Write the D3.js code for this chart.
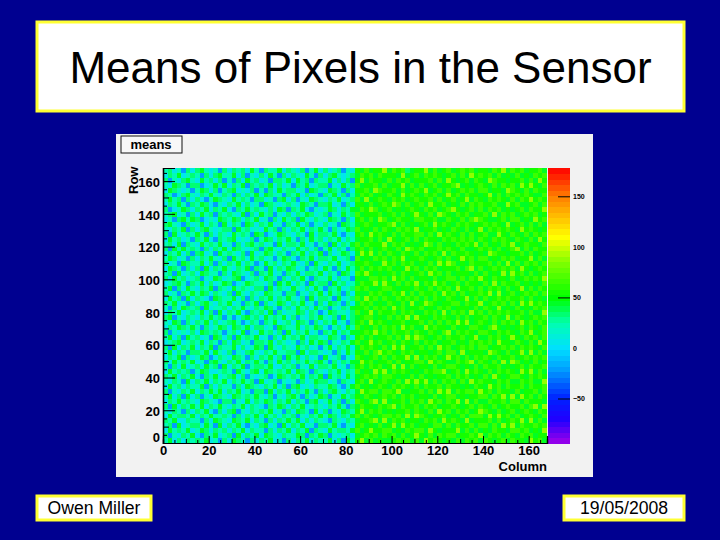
<!DOCTYPE html>
<html>
<head>
<meta charset="utf-8">
<script src="https://cdn.jsdelivr.net/npm/d3@7"></script>
<style>
    html, body { margin: 0; padding: 0; background: #000090; }
    text { font-family: "Liberation Sans", Arial, sans-serif; fill: #000; }
</style>
</head>
<body>
<div id="chart"></div>
<script>
const slideTitle = "Means of Pixels in the Sensor",
    slideAuthor = "Owen Miller",
    slideDate = "19/05/2008",
    histName = "means",
    xTitle = "Column",
    yTitle = "Row";

const axisMax = 168,
    axisTicks = [0, 20, 40, 60, 80, 100, 120, 140, 160],
    axisMinorTicks = [10, 30, 50, 70, 90, 110, 130, 150],
    axisFineTicks = [5, 15, 25, 35, 45, 55, 65, 75, 85, 95, 105, 115, 125, 135, 145, 155, 165],
    zMin = -94,
    zMax = 178,
    zBands = 50,
    zLabels = [-50, 0, 50, 100, 150],
    zMarked = [-50, 50, 150];

// colour of the palette at a few z values
const zStops = [-94, -70, -50, -20, 0, 25, 50, 85, 110, 150, 178],
    zColors = ["#a000e8", "#2000ff", "#0020ff", "#00a0ff", "#00e0ff", "#00ffb0", "#00ff00", "#80ff00", "#ffff00", "#ff8000", "#ff0000"];

// mean for each digit used in the rows below
const levelValues = [-30, -24, -20, 8, 22, 34, 46, 54, 66, 88];

// Hand, top row first. One digit = 2 columns x 3 rows.
// Only the level and speckle of each half are read, not the individual pixels.
const leftRows = [
"4534253 5643425 3545364 2544635 4352463 5345243",
"3546345 4253564 4635243 5364253 5436425 3564345",
"5243564 3645352 4253645 3425546 3645254 4635352",
"4365425 5234646 3546254 5463534 2546345 5243645",
"3654342 4653524 5634352 4253645 5342654 3654253",
"5423564 3546435 4253546 3654425 4635342 5463524",
"4645253 5324654 3645425 5342563 5243654 3546345",
"3546425 4653243 5463534 2654345 4365425 5634253",
"5234653 5463546 3254645 4353652 5463243 4653546",
"4563425 3645254 5436253 6452435 3546534 5243645",
"3425646 5234365 4653546 3425364 5264354 3654253",
"5643253 4635426 3542653 5463425 4635243 5342654",
"4354625 3564345 5264534 3645253 5463546 4253465",
"5263454 6425354 3645426 5234654 3542635 5463243",
"3645342 5463254 5634352 4653546 4253645 3546354",
"4536254 3645463 4253564 5342635 5463424 5263546",
"5264645 4253546 3654345 2564354 3645352 4635425",
"3546352 5634264 5435263 4653542 5463546 2534653",
"4653425 3546435 2645364 5342465 3254635 5463452",
"5342654 4635253 5463542 3645354 6435264 3546345",
"3654253 5263546 4354625 4263546 5342453 6425364",
"4526345 3654425 3654352 5463425 4635546 3542653",
"5364534 5243653 4562345 3654253 5463254 4635342",
"3456425 4635346 5234654 4352646 3542645 5264534",
"4625364 3546254 3645435 5263543 6435364 2546345",
"5342546 4653543 5264354 3654425 5243546 3645253",
"3645263 5432654 4635253 5463546 4352635 5426345",
"5463425 3564354 6342546 2534653 5463425 3654253",
"4253654 5263445 3546435 4653245 3645364 5243546",
"3546345 4635263 5463254 5362534 4653542 3654435",
"5624354 3546452 4235645 3645463 5243546 4352635",
"4365253 5463534 5642354 2546345 3654253 5463425",
"3546546 4253465 3654635 5342654 4635465 3245364",
"5243435 3654542 4536243 6453526 3546342 5463546",
"4635264 5342653 5264546 3425364 5463554 3654253",
"3456345 4635425 3653425 5463543 4253646 5243546",
"5263546 3546254 4635346 5264354 3645342 4635463",
"4635425 5463643 5243564 3546445 5263554 3425364",
"3546253 4652354 3654253 5463526 4635342 6345243",
"5364546 3425643 5463546 4253645 3546456 4253546",
"4253634 5364526 3546245 5463354 5243635 5463425",
"3645452 4653345 4264356 3654546 3654254 3546354",
"5463546 3254634 5635243 4523654 5463546 2645364",
"4354263 5463546 3546452 6345243 4253465 5342543",
"3645354 4625354 4253654 3546352 5634354 4653246",
"5243546 3546463 5463425 5263546 3546425 3564354",
"4635263 5243654 3654546 4352435 6425346 5243645",
"3546454 3654325 5243635 4653546 3542563 4635253",
"5263546 4635464 3546354 3254653 5463454 3546425",
"4354253 5463253 5624354 5463425 3654263 5243654",
"3645546 3546445 4253546 3645354 5243546 4653546",
"5463354 4253654 3654635 4253546 4635354 3254354",
"4526345 5364263 5463243 5634263 5463425 5463243",
"3645463 4653545 3546354 4253546 3546254 3645546",
"5243546 3254634 5263546 3654354 4652546 5243453",
"4635354 5463425 3654253 5463425 3546354 4635264"
];
const rightRows = [
"7686779 6878567 7968678 6787867 7687968 7867786",
"6878687 7769678 6878767 8686978 7868676 8676878",
"7968776 8687867 7786869 7678687 6987767 7868697",
"8677868 6779686 8678677 8967678 7686878 6979768",
"7786987 7868678 7967868 6787868 8677698 7686877",
"6878676 8769787 6878679 7868776 7968687 8787668",
"8696787 6878678 7786867 8679687 6878768 6879787",
"7768678 7986867 8697786 7686878 7786697 8667868",
"6879867 8676787 6878678 9767868 6878676 7868779",
"8677786 7868679 7686987 6878677 8696878 6787867",
"7868698 6787768 8778668 7686898 7667868 8676978",
"6787677 8968676 7869787 6878767 8787696 7868686",
"8676868 7687879 6778676 8768679 6878787 6978767",
"7869787 6868778 8686978 7686867 8669768 7686878",
"6778686 9767868 6877687 8787868 7687876 8768697",
"8687779 6878676 7986867 6878796 8676879 6787768",
"7868678 7686987 8677878 7686678 7868678 9686877",
"6979686 8768768 6878696 8778767 6987767 7868678",
"8676878 6879677 8767868 6797868 8676878 6779686",
"7787669 7868786 7686979 8676877 7868696 8687868",
"6868787 8676978 6878677 7868968 6787878 6976787",
"8797676 7868767 8697868 6777686 8676969 7868678",
"7668878 6978686 7768678 8686879 7687768 6787879",
"6877969 7686879 6879786 7868776 8696877 8676768",
"8786678 8767768 7686878 6977868 6878686 7968687",
"7668787 6879686 8778697 8686778 7969678 6787868",
"8697868 7687878 6868768 7679686 8678787 7868676",
"6878676 8768696 7987677 8868779 6787868 6979787",
"7786878 6978677 8676878 6777686 8769676 8676878",
"8679687 7868786 6878696 8786978 6878787 7868669",
"6788676 8687969 7768787 6868677 8687696 8767878",
"7869787 6778677 8686868 7979678 7686878 6978687",
"8676868 7869786 6978776 8676887 6897676 7868768",
"6787978 6877868 7687689 6878768 8768787 6879678",
"7868677 8686979 8767868 7786796 6878679 7687868",
"8679786 7868768 6878677 8676878 7869776 8768697",
"6878768 6979677 8686978 6787868 8677878 6878768",
"7686897 8768786 7767868 8696777 6987686 7969686",
"8767868 6877969 6878679 7868687 8768778 6787878",
"6978677 8686778 8697876 6878968 7686969 8676867",
"7868786 7969686 7768678 8767686 8778676 7868778",
"8676979 6878767 6878896 7869787 6868787 6979686",
"6787868 8767686 8676778 6878676 8697678 8768787",
"7869678 7686979 7968687 8686978 7768786 6878669",
"8676787 6878768 6877868 7767687 6978687 7868778",
"6978868 8796677 8686979 6878869 7868776 8677868",
"7687678 7868786 7768678 8676778 8687969 6978687",
"8768969 6778687 8697868 7969686 6877868 8687776",
"6877687 8968778 6878677 8767868 7686787 7868969",
"7968786 7677868 7686978 6878679 8768678 6787687",
"8687678 8786969 8767786 7686888 6979786 8678768",
"6778969 6878677 6878697 8769677 7868678 7969686",
"7867686 7969786 7768868 6877868 8686979 6877878",
"8679778 8676878 8697677 7968686 7687768 8786769",
"6787868 7868679 7686878 8677879 6878687 6878677",
"7968676 6787868 6978767 6868786 8767868 7769786"
];

const meansRows = leftRows.map(function (row, i) {
    return row.replace(/ /g, "") + rightRows[i].replace(/ /g, "");
});

const slide = d3.select("#chart")
    .append("svg")
    .attr("width", 720)
    .attr("height", 540)
    .style("display", "block");

slide.append("rect")
    .attr("width", 720)
    .attr("height", 540)
    .attr("fill", "#000090");

function drawBox(x, y, w, h, label, fontSize, baseline) {
    slide.append("rect")
        .attr("x", x)
        .attr("y", y)
        .attr("width", w)
        .attr("height", h)
        .attr("fill", "#ffffff")
        .attr("stroke", "#ffff33")
        .attr("stroke-width", 3);
    slide.append("text")
        .attr("x", x + w / 2)
        .attr("y", baseline)
        .attr("text-anchor", "middle")
        .attr("font-size", fontSize)
        .text(label);
}

drawBox(37, 22, 647, 89, slideTitle, 44, 83);
drawBox(37, 496, 114, 24, slideAuthor, 17.6, 514);
drawBox(564, 496, 120, 24, slideDate, 17.6, 514);

// ROOT canvas
slide.append("rect")
    .attr("x", 116)
    .attr("y", 134)
    .attr("width", 477)
    .attr("height", 343)
    .attr("fill", "#f2f2f2");

slide.append("rect")
    .attr("x", 121)
    .attr("y", 136)
    .attr("width", 61)
    .attr("height", 17)
    .attr("fill", "#f8f8f8")
    .attr("stroke", "#111")
    .attr("stroke-width", 1);

slide.append("text")
    .attr("x", 151)
    .attr("y", 149)
    .attr("text-anchor", "middle")
    .attr("font-size", 13)
    .attr("font-weight", "bold")
    .text(histName);

const x = d3.scaleLinear().domain([0, axisMax]).range([163, 547]),
    y = d3.scaleLinear().domain([0, axisMax]).range([443, 168]),
    zAxisScale = d3.scaleLinear().domain([zMin, zMax]).range([443, 168]);

const zRamp = d3.scaleLinear().domain(zStops).range(zColors).clamp(true);
const zBandStep = (zMax - zMin) / zBands;
const zBandValues = d3.range(zBands).map(function (i) {
    return zMin + (i + 0.5) * zBandStep;
});
const zColor = d3.scaleQuantize().domain([zMin, zMax]).range(zBandValues.map(zRamp));

// heat map
const cells = [];
meansRows.forEach(function (row, r) {
    row.split("").forEach(function (digit, c) {
        cells.push({col: c * 2, row: axisMax - (r + 1) * 3, z: levelValues[+digit]});
    });
});

slide.append("g")
    .attr("shape-rendering", "crispEdges")
    .selectAll("rect")
    .data(cells)
    .join("rect")
    .attr("x", function (d) { return x(d.col); })
    .attr("y", function (d) { return y(d.row + 3); })
    .attr("width", function (d) { return x(d.col + 2) - x(d.col); })
    .attr("height", function (d) { return y(d.row) - y(d.row + 3); })
    .attr("fill", function (d) { return zColor(d.z); });

// colour bar
slide.append("g")
    .attr("shape-rendering", "crispEdges")
    .selectAll("rect")
    .data(zBandValues)
    .join("rect")
    .attr("x", 548)
    .attr("width", 22)
    .attr("y", function (d) { return zAxisScale(d + zBandStep / 2); })
    .attr("height", function (d) { return zAxisScale(d - zBandStep / 2) - zAxisScale(d + zBandStep / 2) + 0.5; })
    .attr("fill", function (d) { return zColor(d); });

const zAxisGroup = slide.append("g")
    .attr("transform", "translate(570,0)")
    .call(d3.axisRight(zAxisScale).tickValues(zLabels).tickSize(-12).tickFormat(d3.format("d")));
zAxisGroup.select(".domain").remove();
zAxisGroup.selectAll(".tick line")
    .filter(function (d) { return zMarked.indexOf(d) < 0; })
    .remove();
zAxisGroup.selectAll("text")
    .attr("x", 3)
    .attr("font-size", 7)
    .attr("font-weight", "bold")
    .attr("font-family", "Liberation Sans");

// axes
function styleAxis(group) {
    group.selectAll("text")
        .attr("font-size", 13)
        .attr("font-weight", "bold")
        .attr("font-family", "Liberation Sans");
    group.selectAll("line").attr("stroke", "#000");
    group.selectAll(".domain").attr("stroke", "#000").attr("stroke-width", 1.2);
}

slide.append("g")
    .attr("transform", "translate(0,443)")
    .call(d3.axisBottom(x).tickValues(axisFineTicks).tickSize(-3).tickFormat(""))
    .call(styleAxis);

slide.append("g")
    .attr("transform", "translate(163,0)")
    .call(d3.axisLeft(y).tickValues(axisFineTicks).tickSize(-4).tickFormat(""))
    .call(styleAxis);

slide.append("g")
    .attr("transform", "translate(0,443)")
    .call(d3.axisBottom(x).tickValues(axisMinorTicks).tickSize(-4).tickFormat(""))
    .call(styleAxis);

slide.append("g")
    .attr("transform", "translate(163,0)")
    .call(d3.axisLeft(y).tickValues(axisMinorTicks).tickSize(-6).tickFormat(""))
    .call(styleAxis);

slide.append("g")
    .attr("transform", "translate(0,443)")
    .call(d3.axisBottom(x).tickValues(axisTicks).tickSize(-7).tickFormat(d3.format("d")))
    .call(styleAxis)
    .selectAll("text")
    .attr("y", 3);

slide.append("g")
    .attr("transform", "translate(163,0)")
    .call(d3.axisLeft(y).tickValues(axisTicks).tickSize(-12).tickFormat(d3.format("d")))
    .call(styleAxis)
    .selectAll("text")
    .attr("x", -3)
    .attr("dy", function (d) { return d === 0 ? "-0.1em" : "0.4em"; });

slide.append("text")
    .attr("x", 547)
    .attr("y", 471)
    .attr("text-anchor", "end")
    .attr("font-size", 13)
    .attr("font-weight", "bold")
    .text(xTitle);

slide.append("text")
    .attr("transform", "translate(138,194) rotate(-90)")
    .attr("font-size", 13)
    .attr("font-weight", "bold")
    .text(yTitle);
</script>
</body>
</html>
